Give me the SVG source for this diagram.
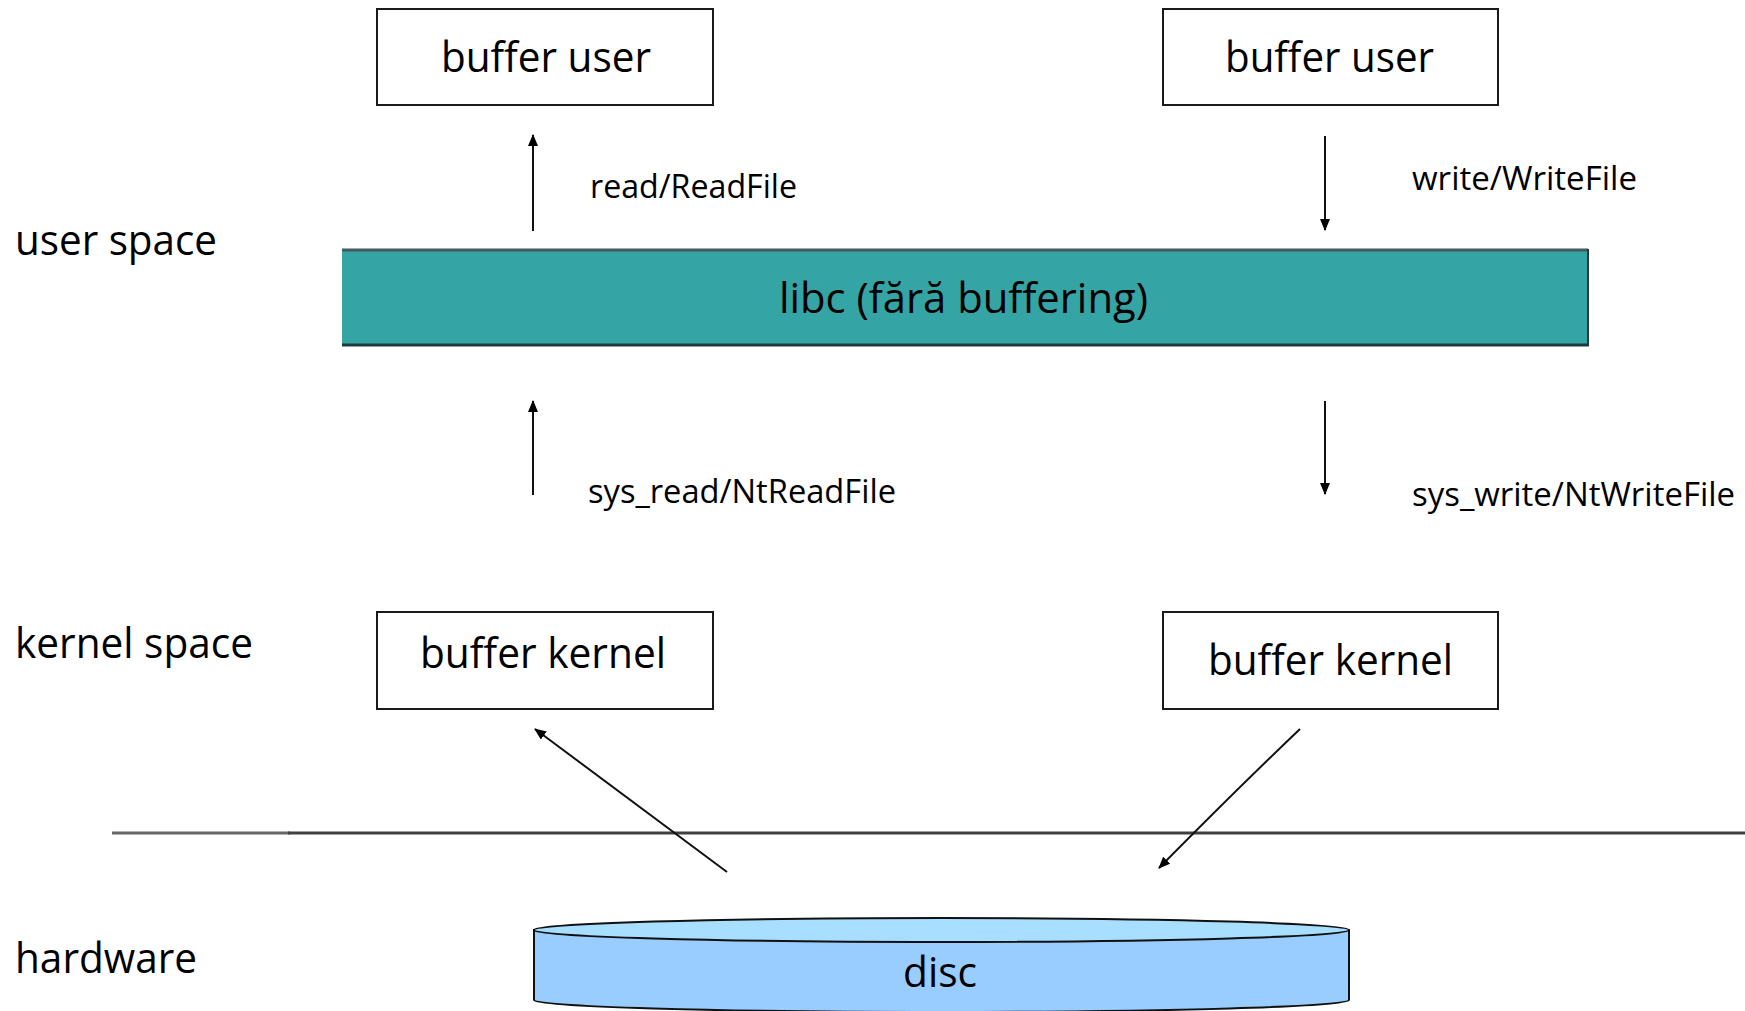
<svg xmlns="http://www.w3.org/2000/svg" width="1745" height="1011" viewBox="0 0 1745 1011">
<style>
  .box { fill: #ffffff; stroke: #1a1a1a; stroke-width: 2; }
  .t { font-family: "Open Sans", "Noto Sans", sans-serif; fill: #000000; }
  .big { font-size: 42px; }
  .lbl { font-size: 32px; }
  .side { font-size: 42px; }
  .conn { stroke: #111111; stroke-width: 2; fill: none; }
</style>
<defs>
  <marker id="ah" viewBox="0 0 12 10" refX="11" refY="5" markerWidth="12" markerHeight="10" markerUnits="userSpaceOnUse" orient="auto">
    <path d="M0,0 L12,5 L0,10 Z" fill="#000000"/>
  </marker>
</defs>
<rect width="1745" height="1011" fill="#ffffff"/>

<g id="labels">
  <text class="t side" x="15" y="255" textLength="202" lengthAdjust="spacingAndGlyphs">user space</text>
  <text class="t side" x="15" y="658" textLength="238" lengthAdjust="spacingAndGlyphs">kernel space</text>
  <text class="t side" x="15" y="973" textLength="182" lengthAdjust="spacingAndGlyphs">hardware</text>
</g>

<g id="separator">
  <line x1="112" y1="833" x2="290" y2="833" stroke="#666666" stroke-width="3"/>
  <line x1="288" y1="833" x2="1745" y2="833" stroke="#404040" stroke-width="3"/>
</g>

<g id="buffer-user-left">
  <rect class="box" x="377" y="9" width="336" height="96"/>
  <text class="t big" x="441" y="72" textLength="210" lengthAdjust="spacingAndGlyphs">buffer user</text>
</g>

<g id="buffer-user-right">
  <rect class="box" x="1163" y="9" width="335" height="96"/>
  <text class="t big" x="1225" y="72" textLength="209" lengthAdjust="spacingAndGlyphs">buffer user</text>
</g>

<g id="libc">
  <rect x="342" y="250" width="1246" height="95" fill="#35A4A4"/>
  <line x1="342" y1="250" x2="1588" y2="250" stroke="#455a5a" stroke-width="3"/>
  <line x1="342" y1="345" x2="1589" y2="345" stroke="#1c3a3a" stroke-width="3"/>
  <line x1="1588" y1="249" x2="1588" y2="346" stroke="#2a3a3a" stroke-width="2"/>
  <text class="t big" x="779" y="313" textLength="369" lengthAdjust="spacingAndGlyphs">libc (fără buffering)</text>
</g>

<g id="buffer-kernel-left">
  <rect class="box" x="377" y="612" width="336" height="97"/>
  <text class="t big" x="420" y="668" textLength="246" lengthAdjust="spacingAndGlyphs">buffer kernel</text>
</g>

<g id="buffer-kernel-right">
  <rect class="box" x="1163" y="612" width="335" height="97"/>
  <text class="t big" x="1208" y="675" textLength="245" lengthAdjust="spacingAndGlyphs">buffer kernel</text>
</g>

<g id="disc">
  <path d="M534,930 L534,1000 A407.5,12 0 0 0 1349,1000 L1349,930 Z" fill="#99CCFF" stroke="#111111" stroke-width="2"/>
  <ellipse cx="941.5" cy="930" rx="407.5" ry="12" fill="#A8DEFF" stroke="#111111" stroke-width="2"/>
  <text class="t big" x="903" y="987" textLength="74" lengthAdjust="spacingAndGlyphs">disc</text>
</g>

<g id="connectors">
  <line class="conn" x1="533" y1="231" x2="533" y2="135" marker-end="url(#ah)"/>
  <line class="conn" x1="1325" y1="136" x2="1325" y2="230" marker-end="url(#ah)"/>
  <line class="conn" x1="533" y1="495" x2="533" y2="401" marker-end="url(#ah)"/>
  <line class="conn" x1="1325" y1="401" x2="1325" y2="494" marker-end="url(#ah)"/>
  <line class="conn" x1="727" y1="872" x2="535" y2="729" marker-end="url(#ah)"/>
  <path class="conn" d="M1300,729 Q1238,788 1159,868" marker-end="url(#ah)"/>
</g>

<g id="connector-labels">
  <text class="t lbl" x="590" y="198" textLength="207" lengthAdjust="spacingAndGlyphs">read/ReadFile</text>
  <text class="t lbl" x="1412" y="190" textLength="225" lengthAdjust="spacingAndGlyphs">write/WriteFile</text>
  <text class="t lbl" x="588" y="503" textLength="308" lengthAdjust="spacingAndGlyphs">sys_read/NtReadFile</text>
  <text class="t lbl" x="1412" y="506" textLength="323" lengthAdjust="spacingAndGlyphs">sys_write/NtWriteFile</text>
</g>
</svg>
